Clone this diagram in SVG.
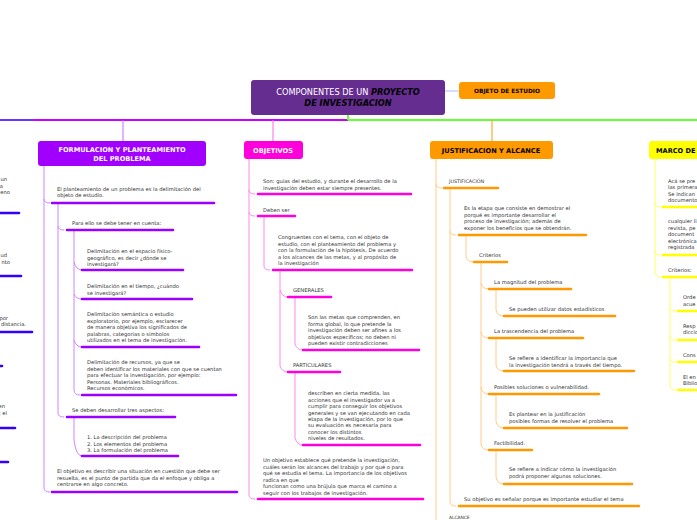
<svg xmlns="http://www.w3.org/2000/svg" width="697" height="520" viewBox="0 0 697 520">
<style>
text{font-family:"DejaVu Sans","Verdana",sans-serif;font-size:5.2px;fill:#333}
.h{font-weight:bold;font-size:6.6px;text-anchor:middle}
.w{fill:#fff}
.k{fill:#000}
.ln{fill:none;stroke-width:1}
.ul{stroke-width:2.6;stroke-linecap:round}
.p .ul{stroke:#9900ff}.p .ln{stroke:#cc88ff}
.m .ul{stroke:#ff00dd}.m .ln{stroke:#ff88ee}
.o .ul{stroke:#ff9900}.o .ln{stroke:#ffcc88}
.y .ul{stroke:#ffff00}.y .ln{stroke:#ffff66}
.b .ul{stroke:#3300ff}
</style>
<rect width="697" height="520" fill="#fff"/>
<g id="connectors">
<path d="M0 120H33" stroke="#6633ff" stroke-width="2"/>
<path d="M33 120H348" stroke="#cc00ff" stroke-width="2"/>
<path d="M348 120H697" stroke="#66ff33" stroke-width="2"/>
<path d="M348 115V120" stroke="#66ff33" stroke-width="2"/>
<path d="M445 91H459" stroke="#aabbff" stroke-width="1"/>
<path d="M123 120V141" stroke="#cc66ff" stroke-width="1"/>
<path d="M273 120V141" stroke="#ff66ee" stroke-width="1"/>
<path d="M492 120V141" stroke="#ff9900" stroke-width="1"/>
</g>
<g id="root">
<rect x="251" y="80" width="194" height="35" rx="3" fill="#662d91"/>
<text x="348" y="95" text-anchor="middle" style="font-size:8.2px"><tspan class="w">COMPONENTES DE UN </tspan><tspan class="k" font-weight="bold" font-style="italic">PROYECTO</tspan></text>
<text x="348" y="106" text-anchor="middle" class="k" font-weight="bold" font-style="italic" style="font-size:8.2px">DE INVESTIGACION</text>
</g>
<g id="objeto">
<rect x="459" y="82" width="96" height="17" rx="3" fill="#ff9900"/>
<text x="507" y="93" class="h k" style="font-size:5.8px">OBJETO DE ESTUDIO</text>
</g>
<g id="left-partial" class="b">
<text x="7" y="181" text-anchor="end">un</text><text x="3" y="188" text-anchor="end">a</text><text x="10" y="194" text-anchor="end">eno</text>
<path class="ul" d="M0 213H19"/>
<text x="7" y="257" text-anchor="end">ud</text><text x="10" y="264" text-anchor="end">nto</text>
<path class="ul" d="M0 276H21"/>
<text x="8" y="320" text-anchor="end">por</text><text x="26" y="326" text-anchor="end">distancia.</text>
<path class="ul" d="M0 332H32"/>
<path class="ul" d="M0 366H2"/>
<text x="5" y="408" text-anchor="end">en</text><text x="7" y="415" text-anchor="end">; el</text>
<path class="ul" d="M0 428H15"/>
<path class="ul" d="M0 462H8"/>
</g>
<g id="formulacion" class="p">
<rect x="38" y="141" width="168" height="25" rx="3" fill="#a100ff"/>
<text x="122" y="152" class="h w">FORMULACION Y PLANTEAMIENTO</text>
<text x="122" y="161" class="h w">DEL PROBLEMA</text>
<path class="ln" d="M44 166V488Q44 492 50 492M44 199Q44 203 50 203M58 203V413Q58 417 64 417M58 226Q58 230 64 230M74 230V390Q74 395 80 395M74 262Q76 270 82 270M74 294Q76 299 82 299M74 340Q76 347 82 347M74 440Q76 456 82 456"/>
<path class="ln" d="M74 417V440"/>
<text x="57" y="191">El planteamiento de un problema es la delimitación del</text><text x="57" y="197">objeto de estudio.</text>
<path class="ul" d="M52 203H214"/>
<text x="72" y="225">Para ello se debe tener en cuenta:</text>
<path class="ul" d="M67 230H173"/>
<text x="87" y="253">Delimitación en el espacio físico-</text><text x="87" y="259.5">geográfico, es decir ¿dónde se</text><text x="87" y="266">investigará?</text>
<path class="ul" d="M82 270H183"/>
<text x="87" y="288">Delimitación en el tiempo, ¿cuándo</text><text x="87" y="294.5">se investigará?</text>
<path class="ul" d="M82 299H192"/>
<text x="87" y="316">Delimitación semántica o estudio</text><text x="87" y="322.5">exploratorio, por ejemplo, esclarecer</text><text x="87" y="329">de manera objetiva los significados de</text><text x="87" y="335.5">palabras, categorías o símbolos</text><text x="87" y="342">utilizados en el tema de investigación.</text>
<path class="ul" d="M82 347H199"/>
<text x="87" y="364">Delimitación de recursos, ya que se</text><text x="87" y="370.5">deben identificar los materiales con que se cuentan</text><text x="87" y="377">para efectuar la investigación, por ejemplo:</text><text x="87" y="383.5">Personas. Materiales bibliográficos.</text><text x="87" y="390">Recursos económicos.</text>
<path class="ul" d="M82 395H236"/>
<text x="72" y="412">Se deben desarrollar tres aspectos:</text>
<path class="ul" d="M67 417H175"/>
<text x="87" y="439">1. La descripción del problema</text><text x="87" y="445.5">2. Los elementos del problema</text><text x="87" y="452">3. La formulación del problema</text>
<path class="ul" d="M82 456H178"/>
<text x="57" y="473">El objetivo es describir una situación en cuestión que debe ser</text><text x="57" y="479.5">resuelta, es el punto de partida que da el enfoque y obliga a</text><text x="57" y="486">centrarse en algo concreto.</text>
<path class="ul" d="M52 492H237"/>
</g>
<g id="objetivos" class="m">
<rect x="244" y="141" width="59" height="18" rx="3" fill="#ff00dd"/>
<text x="273" y="153" class="h w">OBJETIVOS</text>
<path class="ln" d="M249 159V495Q249 499 255 499M249 190Q249 194 255 194M249 212Q249 216 255 216M264 216V266Q264 270 270 270M280 270V366Q282 372 288 372M280 290Q282 297 288 297M295 297V344Q297 350 303 350M295 372V438Q297 445 303 445"/>
<text x="263" y="183">Son: guías del estudio, y durante el desarrollo de la</text><text x="263" y="189.5">investigación deben estar siempre presentes.</text>
<path class="ul" d="M258 194H411"/>
<text x="263" y="212">Deben ser</text>
<path class="ul" d="M258 216H295"/>
<text x="278" y="239">Congruentes con el tema, con el objeto de</text><text x="278" y="245.5">estudio, con el planteamiento del problema y</text><text x="278" y="252">con la formulación de la hipótesis,  De acuerdo</text><text x="278" y="258.5">a los alcances de las metas, y al propósito de</text><text x="278" y="265">la investigación</text>
<path class="ul" d="M273 270H412"/>
<text x="293" y="292">GENERALES</text>
<path class="ul" d="M288 297H331"/>
<text x="308" y="319">Son las metas que comprenden, en</text><text x="308" y="325.5">forma global, lo que pretende la</text><text x="308" y="332">investigación deben ser afines a los</text><text x="308" y="338.5">objetivos específicos; no deben ni</text><text x="308" y="345">pueden existir contradicciones</text>
<path class="ul" d="M303 350H419"/>
<text x="293" y="367">PARTICULARES</text>
<path class="ul" d="M288 372H340"/>
<text x="308" y="395">describen en cierta medida, las</text><text x="308" y="401.5">acciones que el investigador va a</text><text x="308" y="408">cumplir para conseguir los objetivos</text><text x="308" y="414.5">generales y se van ejecutando en cada</text><text x="308" y="421">etapa de la investigación, por lo que</text><text x="308" y="427">su evaluación es necesaria para</text><text x="308" y="433.5">conocer los distintos</text><text x="308" y="440">niveles de resultados.</text>
<path class="ul" d="M303 445H420"/>
<text x="263" y="462">Un objetivo establece qué pretende la investigación,</text><text x="263" y="468.5">cuáles serán los alcances del trabajo y por qué o para</text><text x="263" y="475">qué se estudia el tema. La importancia de los objetivos</text><text x="263" y="481.5">radica en que</text><text x="263" y="488">funcionan como una brújula que marca el camino a</text><text x="263" y="494.5">seguir con los trabajos de investigación.</text>
<path class="ul" d="M258 499H423"/>
</g>
<g id="justificacion" class="o">
<rect x="430" y="141" width="123" height="18" rx="3" fill="#ff9900"/>
<text x="491" y="153" class="h k">JUSTIFICACION Y ALCANCE</text>
<path class="ln" d="M436 159V520M436 184Q436 188 442 188M450 188V502Q450 506 456 506M450 231Q450 235 456 235M466 235V256Q467 262 474 262M481 262V444Q482 450 489 450M481 283Q482 289 489 289M481 332Q482 338 489 338M481 387Q482 394 489 394M496 289V310Q497 316 504 316M496 338V365Q497 371 504 371M496 394V421Q497 428 504 428M496 450V477Q497 484 504 484"/>
<text x="449" y="183" style="font-size:4.8px">JUSTIFICACIÓN</text>
<path class="ul" d="M444 188H498"/>
<text x="464" y="210">Es la etapa que consiste en demostrar el</text><text x="464" y="216.5">porqué es importante desarrollar el</text><text x="464" y="223">proceso de investigación; además de</text><text x="464" y="229.5">exponer los beneficios que se obtendrán.</text>
<path class="ul" d="M459 235H586"/>
<text x="479" y="257">Criterios</text>
<path class="ul" d="M474 262H507"/>
<text x="494" y="284">La magnitud del problema</text>
<path class="ul" d="M489 289H571"/>
<text x="509" y="311">Se pueden utilizar datos estadísticos</text>
<path class="ul" d="M504 316H615"/>
<text x="494" y="333">La trascendencia del problema</text>
<path class="ul" d="M489 338H583"/>
<text x="509" y="360">Se refiere a identificar la importancia que</text><text x="509" y="366.5">la investigación tendrá a través del tiempo.</text>
<path class="ul" d="M504 371H634"/>
<text x="494" y="389">Posibles soluciones o vulnerabilidad.</text>
<path class="ul" d="M489 394H599"/>
<text x="509" y="416">Es plantear en la justificación</text><text x="509" y="422.5"> posibles formas de resolver el problema</text>
<path class="ul" d="M504 428H627"/>
<text x="494" y="445">Factibilidad.</text>
<path class="ul" d="M489 450H532"/>
<text x="509" y="471">Se refiere a indicar cómo la investigación</text><text x="509" y="477.5">podrá proponer algunas soluciones.</text>
<path class="ul" d="M504 484H632"/>
<text x="464" y="500.5">Su objetivo es señalar porque es importante estudiar el tema</text>
<path class="ul" d="M459 506H639"/>
<text x="449" y="519" style="font-size:4.4px">ALCANCE</text>
</g>
<g id="marco" class="y">
<rect x="649" y="141" width="60" height="18" rx="3" fill="#ffff00"/>
<text x="656" y="153" class="h k" style="text-anchor:start">MARCO DE</text>
<path class="ln" d="M655 159V271Q655 277 661 277M655 203Q655 207 661 207M655 251Q655 255 661 255M670 277V386Q670 390 676 390M670 307Q670 311 676 311M670 336Q670 340 676 340M670 358Q670 362 676 362"/>
<text x="668" y="183">Acá se pre</text><text x="668" y="189">las primera</text><text x="668" y="195.5">Se indican</text><text x="668" y="202">documento</text>
<path class="ul" d="M663 207H697"/>
<text x="668" y="223">cualquier li</text><text x="668" y="229.5">revista, pe</text><text x="668" y="236">document</text><text x="668" y="242.5">electrónica</text><text x="668" y="249">registrada</text>
<path class="ul" d="M663 255H697"/>
<text x="668" y="272">Criterios:</text>
<path class="ul" d="M663 277H697"/>
<text x="683" y="299">Orde</text><text x="683" y="305.5">acue</text>
<path class="ul" d="M678 311H697"/>
<text x="683" y="327.5">Resp</text><text x="683" y="334">diccio</text>
<path class="ul" d="M678 340H697"/>
<text x="683" y="356.5">Cons</text>
<path class="ul" d="M678 362H697"/>
<text x="683" y="378.5">El en</text><text x="683" y="385">Biblio</text>
<path class="ul" d="M678 390H697"/>
</g>
</svg>
